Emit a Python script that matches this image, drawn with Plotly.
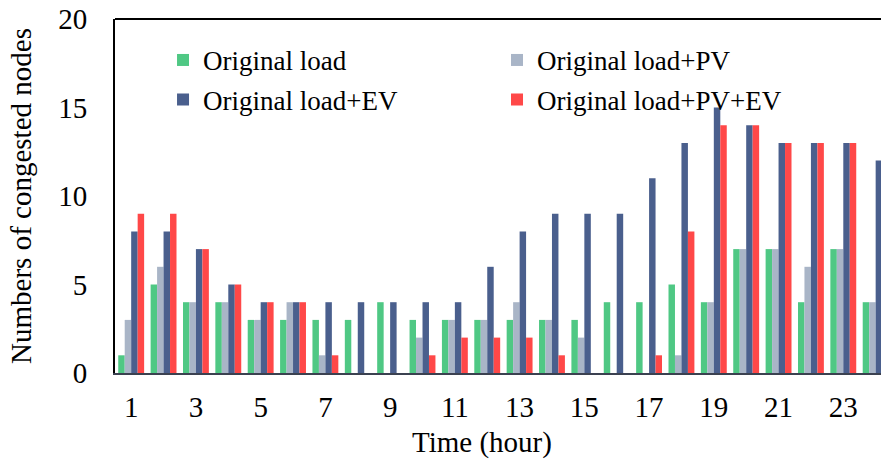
import plotly.graph_objects as go

hours = list(range(1, 25))
original_load = [1, 5, 4, 4, 3, 3, 3, 3, 4, 3, 3, 3, 3, 3, 3, 4, 4, 5, 4, 7, 7, 4, 7, 4]
load_pv = [3, 6, 4, 4, 3, 4, 1, 0, 0, 2, 3, 3, 4, 3, 2, 0, 0, 1, 4, 7, 7, 6, 7, 4]
load_ev = [8, 8, 7, 5, 4, 4, 4, 4, 4, 4, 4, 6, 8, 9, 9, 9, 11, 13, 15, 14, 13, 13, 13, 12]
load_pv_ev = [9, 9, 7, 5, 4, 4, 1, 0, 0, 1, 2, 2, 2, 1, 0, 0, 1, 8, 14, 14, 13, 13, 13, 12]
x_ticks = [1, 3, 5, 7, 9, 11, 13, 15, 17, 19, 21, 23]
y_ticks = [0, 5, 10, 15, 20]

FONT = "Liberation Serif, Times New Roman, serif"
AXIS_SIZE = 29
LEGEND_SIZE = 27

series = [
    ("Original load", original_load, "#4fc884", "legend"),
    ("Original load+PV", load_pv, "#a9b5c7", "legend2"),
    ("Original load+EV", load_ev, "#4a5f8d", "legend3"),
    ("Original load+PV+EV", load_pv_ev, "#ff4848", "legend4"),
]

fig = go.Figure()
for name, vals, color, leg in series:
    fig.add_trace(go.Bar(
        x=hours, y=vals, name=name, legend=leg, showlegend=True,
        marker=dict(color=color, line=dict(width=0)),
    ))

legend_style = dict(
    font=dict(family=FONT, size=LEGEND_SIZE, color="black"),
    bgcolor="rgba(0,0,0,0)",
    xanchor="left", yanchor="middle",
    itemwidth=30,
)
# legend laid out as two columns by two rows
col1, col2 = 0.0627, 0.4987
row1, row2 = 0.883, 0.771
fig.update_layout(
    legend=dict(x=col1, y=row1, **legend_style),
    legend2=dict(x=col2, y=row1, **legend_style),
    legend3=dict(x=col1, y=row2, **legend_style),
    legend4=dict(x=col2, y=row2, **legend_style),
)

fig.update_layout(
    width=881, height=464,
    margin=dict(l=115, r=0, t=19, b=91),
    paper_bgcolor="white", plot_bgcolor="white",
    barmode="group", bargap=0.2, bargroupgap=0,
    font=dict(family=FONT, size=AXIS_SIZE, color="black"),
    xaxis=dict(
        range=[0.5, 24.165],
        tickmode="array", tickvals=x_ticks, ticktext=[str(v) for v in x_ticks],
        showgrid=False, zeroline=False,
        showline=True, linecolor="#3b4150", linewidth=2,
        ticks="", ticklabelstandoff=7,
        tickfont=dict(family=FONT, size=AXIS_SIZE, color="black"),
    ),
    yaxis=dict(
        range=[0, 20],
        tickmode="array", tickvals=y_ticks,
        showgrid=False, zeroline=False,
        showline=True, linecolor="black", linewidth=2,
        ticks="", ticklabelstandoff=20,
        tickfont=dict(family=FONT, size=AXIS_SIZE, color="black"),
        title=dict(text="Numbers of congested nodes", font=dict(family=FONT, size=AXIS_SIZE, color="black"), standoff=18),
    ),
    shapes=[dict(type="line", xref="paper", yref="paper", x0=0, x1=1, y0=1, y1=1,
                 line=dict(color="black", width=2))],
    annotations=[dict(text="Time (hour)", xref="paper", yref="paper", x=0.479, y=-0.195,
                      xanchor="center", yanchor="middle", showarrow=False,
                      font=dict(family=FONT, size=AXIS_SIZE, color="black"))],
)

fig.write_html("out.html")
